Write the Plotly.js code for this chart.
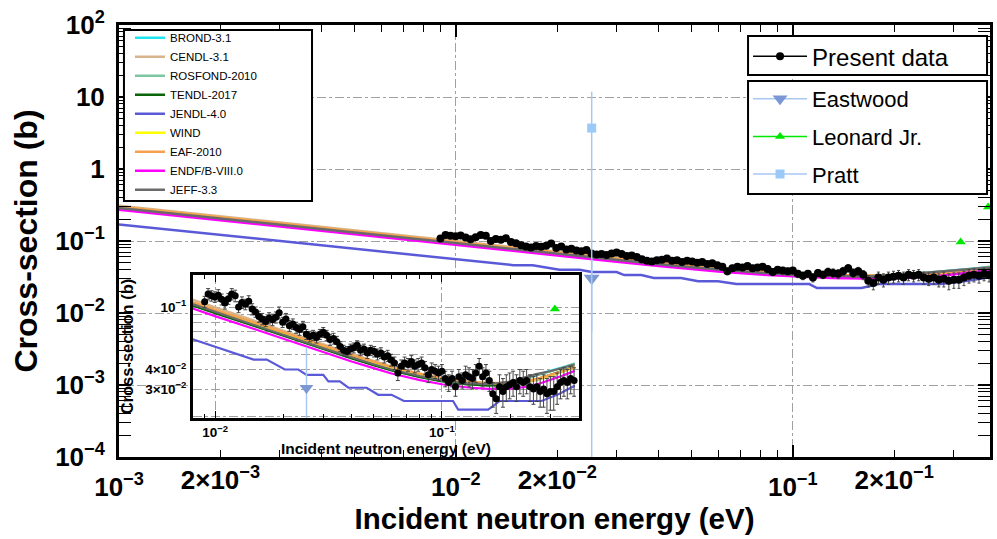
<!DOCTYPE html>
<html>
<head>
<meta charset="utf-8">
<script src="https://cdn.plot.ly/plotly-3.0.1.min.js"></script>
<style>
  html, body { margin: 0; padding: 0; background: #ffffff; }
  #chart { width: 997px; height: 539px; }
</style>
</head>
<body>
<div id="chart"></div>
<script>
// ---- Measured capture cross section (this work) ----
const presentE = [
  0.00900, 0.00932, 0.00964, 0.00998, 0.01033, 0.01069, 0.01106, 0.01145, 0.01185, 0.01227,
  0.01270, 0.01314, 0.01360, 0.01408, 0.01457, 0.01508, 0.01561, 0.01615, 0.01672, 0.01730,
  0.01791, 0.01854, 0.01918, 0.01986, 0.02055, 0.02127, 0.02202, 0.02279, 0.02358, 0.02441,
  0.02526, 0.02615, 0.02706, 0.02801, 0.02899, 0.03000, 0.03105, 0.03214, 0.03327, 0.03443,
  0.03564, 0.03688, 0.03817, 0.03951, 0.04089, 0.04232, 0.04380, 0.04534, 0.04692, 0.04857,
  0.05027, 0.05203, 0.05385, 0.05573, 0.05768, 0.05970, 0.06179, 0.06396, 0.06619, 0.06851,
  0.07091, 0.07339, 0.07596, 0.07862, 0.08137, 0.08422, 0.08717, 0.09022, 0.09338, 0.09664,
  0.10003, 0.10353, 0.10715, 0.11090, 0.11478, 0.11880, 0.12296, 0.12726, 0.13172, 0.13633,
  0.14110, 0.14604, 0.15115, 0.15644, 0.16191, 0.16758, 0.17345, 0.17952, 0.18580, 0.19230,
  0.19903, 0.20600, 0.21321, 0.22067, 0.22839, 0.23639, 0.24466, 0.25323, 0.26209, 0.27126,
  0.28076, 0.29058, 0.30075, 0.31128, 0.32218, 0.33345, 0.34512, 0.35720, 0.36970, 0.38264
];
const presentXS = [
  0.108, 0.121, 0.118, 0.116, 0.119, 0.112, 0.106, 0.113, 0.121, 0.118,
  0.100, 0.107, 0.104, 0.109, 0.097, 0.093, 0.087, 0.084, 0.081, 0.085,
  0.083, 0.086, 0.092, 0.080, 0.084, 0.076, 0.078, 0.074, 0.072, 0.075,
  0.067, 0.065, 0.066, 0.064, 0.067, 0.069, 0.066, 0.062, 0.063, 0.060,
  0.056, 0.053, 0.052, 0.054, 0.055, 0.057, 0.053, 0.054, 0.051, 0.053,
  0.052, 0.050, 0.051, 0.048, 0.049, 0.046, 0.044, 0.038, 0.042, 0.044,
  0.043, 0.045, 0.042, 0.043, 0.044, 0.041, 0.037, 0.040, 0.039, 0.038,
  0.039, 0.035, 0.033, 0.035, 0.031, 0.036, 0.034, 0.037, 0.036, 0.035,
  0.038, 0.042, 0.036, 0.038, 0.034, 0.028, 0.026, 0.031, 0.029, 0.031,
  0.032, 0.033, 0.031, 0.034, 0.033, 0.034, 0.031, 0.030, 0.031, 0.029,
  0.030, 0.028, 0.029, 0.029, 0.031, 0.033, 0.034, 0.033, 0.035, 0.034
];
const presentErr = [
  0.009, 0.010, 0.009, 0.009, 0.010, 0.009, 0.009, 0.009, 0.010, 0.010,
  0.008, 0.009, 0.008, 0.009, 0.008, 0.007, 0.007, 0.007, 0.006, 0.007,
  0.007, 0.007, 0.008, 0.006, 0.007, 0.006, 0.006, 0.006, 0.006, 0.006,
  0.005, 0.005, 0.005, 0.005, 0.005, 0.005, 0.005, 0.005, 0.005, 0.005,
  0.004, 0.004, 0.004, 0.004, 0.004, 0.004, 0.004, 0.004, 0.004, 0.004,
  0.004, 0.004, 0.004, 0.004, 0.004, 0.004, 0.004, 0.004, 0.004, 0.004,
  0.004, 0.004, 0.004, 0.004, 0.004, 0.004, 0.004, 0.004, 0.004, 0.004,
  0.004, 0.004, 0.004, 0.004, 0.004, 0.004, 0.004, 0.005, 0.005, 0.005,
  0.005, 0.005, 0.005, 0.005, 0.005, 0.005, 0.005, 0.006, 0.006, 0.006,
  0.006, 0.006, 0.006, 0.006, 0.006, 0.006, 0.006, 0.006, 0.006, 0.006,
  0.007, 0.007, 0.007, 0.007, 0.007, 0.007, 0.007, 0.007, 0.007, 0.007
];

// ---- Evaluated libraries on a common energy grid ----
const libE    = [0.001, 0.002, 0.005, 0.01, 0.015, 0.02, 0.03, 0.04, 0.05, 0.06, 0.08, 0.1, 0.13, 0.16, 0.2, 0.23, 0.26, 0.3, 0.34, 0.385];
const brond31   = [0.287, 0.204, 0.1292, 0.0923, 0.0762, 0.0662, 0.0545, 0.0475, 0.0430, 0.0398, 0.0361, 0.0340, 0.0325, 0.0320, 0.0330, 0.0348, 0.0368, 0.0392, 0.0412, 0.0435];
const cendl31   = [0.310, 0.220, 0.1395, 0.0995, 0.0818, 0.0708, 0.0580, 0.0503, 0.0454, 0.0418, 0.0377, 0.0352, 0.0334, 0.0326, 0.0325, 0.0331, 0.0341, 0.0362, 0.0386, 0.0412];
const rosfond10 = [0.286, 0.203, 0.1286, 0.0919, 0.0758, 0.0658, 0.0542, 0.0473, 0.0428, 0.0396, 0.0359, 0.0338, 0.0323, 0.0318, 0.0328, 0.0345, 0.0365, 0.0388, 0.0410, 0.0438];
const tendl17   = [0.284, 0.2015, 0.1280, 0.0914, 0.0754, 0.0655, 0.0539, 0.0470, 0.0426, 0.0394, 0.0357, 0.0336, 0.0321, 0.0315, 0.0320, 0.0330, 0.0345, 0.0368, 0.0392, 0.0418];
const wind      = [0.296, 0.210, 0.1335, 0.0954, 0.0787, 0.0683, 0.0562, 0.0490, 0.0445, 0.0411, 0.0373, 0.0350, 0.0333, 0.0326, 0.0326, 0.0333, 0.0344, 0.0365, 0.0388, 0.0412];
const eaf10     = [0.299, 0.212, 0.1348, 0.0963, 0.0794, 0.0690, 0.0568, 0.0495, 0.0449, 0.0415, 0.0376, 0.0353, 0.0336, 0.0329, 0.0329, 0.0336, 0.0347, 0.0368, 0.0390, 0.0415];
const endfb80   = [0.272, 0.193, 0.1225, 0.0875, 0.0722, 0.0627, 0.0516, 0.0450, 0.0408, 0.0377, 0.0342, 0.0322, 0.0307, 0.0301, 0.0302, 0.0309, 0.0320, 0.0342, 0.0365, 0.0392];
const jeff33    = [0.288, 0.205, 0.1300, 0.0928, 0.0765, 0.0665, 0.0547, 0.0477, 0.0432, 0.0400, 0.0363, 0.0341, 0.0327, 0.0322, 0.0335, 0.0355, 0.0374, 0.0390, 0.0408, 0.0430];

// JENDL-4.0 is given as a group-wise (stepped) curve
const jendlE  = [0.001, 0.0148, 0.0169, 0.0203, 0.0233, 0.0253, 0.0300, 0.0316, 0.0355, 0.0387, 0.0466, 0.0524, 0.0600, 0.0680, 0.1120, 0.1180, 0.1600, 0.1800, 0.2750, 0.3300, 0.385];
const jendl40 = [0.170, 0.0462, 0.0462, 0.0400, 0.0400, 0.0370, 0.0370, 0.0336, 0.0336, 0.0306, 0.0306, 0.0276, 0.0276, 0.0252, 0.0252, 0.0222, 0.0222, 0.0252, 0.0252, 0.0280, 0.0315];

// ---- Earlier measurements ----
const eastwoodE = [0.0253], eastwoodXS = [0.0305], eastwoodErr = [0.025];
const leonardE  = [0.315, 0.380], leonardXS = [0.097, 0.296];
const prattE    = [0.0253], prattXS = [3.7], prattErr = [8.1];

// ---- Tick labels ----
const xTickVals  = [0.001, 0.01, 0.1];
const xTickText  = ['10<sup>\u22123</sup>', '10<sup>\u22122</sup>', '10<sup>\u22121</sup>'];
const x2TickVals = [0.002, 0.02, 0.2];
const x2TickText = ['2\u00d710<sup>\u22123</sup>', '2\u00d710<sup>\u22122</sup>', '2\u00d710<sup>\u22121</sup>'];
const yTickVals  = [1e-4, 1e-3, 1e-2, 1e-1, 1, 10, 100];
const yTickText  = ['10<sup>\u22124</sup>', '10<sup>\u22123</sup>', '10<sup>\u22122</sup>', '10<sup>\u22121</sup>', '1', '10', '10<sup>2</sup>'];
const insetXTickVals = [0.01, 0.1];
const insetXTickText = ['10<sup>\u22122</sup>', '10<sup>\u22121</sup>'];
const insetYTickVals = [0.03, 0.04, 0.1];
const insetYTickText = ['3\u00d710<sup>\u22122</sup>', '4\u00d710<sup>\u22122</sup>', '10<sup>\u22121</sup>'];
const insetYGridVals = [0.02, 0.05, 0.06, 0.07, 0.08, 0.09];

const libraries = [
  { name: 'BROND-3.1',     color: '#1ee6ee', x: libE,   y: brond31 },
  { name: 'CENDL-3.1',     color: '#d8b48c', x: libE,   y: cendl31 },
  { name: 'ROSFOND-2010',  color: '#7cc6a0', x: libE,   y: rosfond10 },
  { name: 'TENDL-2017',    color: '#0a640a', x: libE,   y: tendl17 },
  { name: 'JENDL-4.0',     color: '#5a5ad8', x: jendlE, y: jendl40 },
  { name: 'WIND',          color: '#ffff00', x: libE,   y: wind },
  { name: 'EAF-2010',      color: '#f6a04e', x: libE,   y: eaf10 },
  { name: 'ENDF/B-VIII.0', color: '#ff00ff', x: libE,   y: endfb80 },
  { name: 'JEFF-3.3',      color: '#6a6a6a', x: libE,   y: jeff33 }
];

const FONT = 'Liberation Sans, Arial, Helvetica, sans-serif';
const traces = [];

function addSet(inset) {
  const xa = inset ? 'x2' : 'x';
  const ya = inset ? 'y2' : 'y';
  libraries.forEach(function (lib) {
    traces.push({
      type: 'scatter', mode: 'lines', name: lib.name,
      x: lib.x, y: lib.y, xaxis: xa, yaxis: ya,
      line: { color: lib.color, width: inset ? 2.2 : 2.5 },
      legend: 'legend', showlegend: !inset, hoverinfo: 'skip'
    });
  });
  traces.push({
    type: 'scatter', mode: 'markers', name: 'Present data',
    x: presentE, y: presentXS, xaxis: xa, yaxis: ya,
    marker: { color: '#000000', size: inset ? 7 : 8, symbol: 'circle' },
    error_y: { type: 'data', array: presentErr, visible: true, color: '#444444', thickness: 1, width: inset ? 2 : 1.5 },
    showlegend: false, hoverinfo: 'skip'
  });
  traces.push({
    type: 'scatter', mode: 'markers', name: 'Eastwood',
    x: eastwoodE, y: eastwoodXS, xaxis: xa, yaxis: ya,
    marker: { color: '#7b98d4', size: inset ? 12 : 14, symbol: 'triangle-down' },
    error_y: { type: 'data', array: eastwoodErr, visible: true, color: '#a8c8f2', thickness: 1.5, width: 0 },
    showlegend: false, hoverinfo: 'skip'
  });
  traces.push({
    type: 'scatter', mode: 'markers', name: 'Leonard Jr.',
    x: leonardE, y: leonardXS, xaxis: xa, yaxis: ya,
    marker: { color: '#00e800', size: 9, symbol: 'triangle-up' },
    showlegend: false, hoverinfo: 'skip'
  });
  if (!inset) {
    traces.push({
      type: 'scatter', mode: 'markers', name: 'Pratt',
      x: prattE, y: prattXS, xaxis: xa, yaxis: ya,
      marker: { color: '#9ccaf8', size: 9, symbol: 'square' },
      error_y: { type: 'data', array: prattErr, visible: true, color: '#a8c8f2', thickness: 1.5, width: 0 },
      showlegend: false, hoverinfo: 'skip'
    });
  }
}
addSet(false);
addSet(true);

// empty trace that carries the secondary (2x10^n) label axis
traces.push({ type: 'scatter', mode: 'markers', x: [null], y: [null], xaxis: 'x3', yaxis: 'y', showlegend: false, hoverinfo: 'skip' });

// legend-only entries (line + marker symbol as in the key)
traces.push({ type: 'scatter', mode: 'lines+markers', name: 'Present data', x: [null], y: [null],
  line: { color: '#000000', width: 1.5 }, marker: { color: '#000000', size: 8 }, legend: 'legend2', hoverinfo: 'skip' });
traces.push({ type: 'scatter', mode: 'lines+markers', name: 'Eastwood', x: [null], y: [null], legendgroup: 'g1',
  line: { color: '#a8c8f2', width: 1.5 }, marker: { color: '#7b98d4', size: 13, symbol: 'triangle-down' }, legend: 'legend3', hoverinfo: 'skip' });
traces.push({ type: 'scatter', mode: 'lines+markers', name: 'Leonard Jr.', x: [null], y: [null], legendgroup: 'g2',
  line: { color: '#00e800', width: 1.5 }, marker: { color: '#00e800', size: 9, symbol: 'triangle-up' }, legend: 'legend3', hoverinfo: 'skip' });
traces.push({ type: 'scatter', mode: 'lines+markers', name: 'Pratt', x: [null], y: [null], legendgroup: 'g3',
  line: { color: '#a8c8f2', width: 1.5 }, marker: { color: '#9ccaf8', size: 9, symbol: 'square' }, legend: 'legend3', hoverinfo: 'skip' });

const xRange = [-3, Math.log10(0.385)];
const gridStyle = { showgrid: true, gridcolor: '#a0a0a0', gridwidth: 1, griddash: 'dashdot' };
const tickFont = { family: FONT, size: 26, color: '#000000', weight: 'bold' };
const insetTickFont = { family: FONT, size: 13.5, color: '#000000', weight: 'bold' };

// framed boxes behind the three keys (paper coordinates of the plot area)
function box(x0, x1, y0, y1) {
  return { type: 'rect', xref: 'paper', yref: 'paper', x0: x0, x1: x1, y0: y0, y1: y1,
           line: { color: '#000000', width: 2 }, fillcolor: '#ffffff', layer: 'above' };
}

const layout = {
  width: 997, height: 539,
  margin: { l: 119, r: 7, t: 25, b: 82, pad: 0, autoexpand: false },
  paper_bgcolor: '#ffffff', plot_bgcolor: '#ffffff',
  font: { family: FONT, color: '#000000' },
  showlegend: true,
  shapes: [
    box(0.0057, 0.2216, 0.5926, 0.9884),
    box(0.7222, 0.9966, 0.8843, 0.9745),
    box(0.7222, 0.9966, 0.6088, 0.8704)
  ],
  xaxis: Object.assign({
    type: 'log', range: xRange, domain: [0, 1], anchor: 'y',
    tickmode: 'array', tickvals: xTickVals, ticktext: xTickText, tickfont: tickFont, ticklabelstandoff: 5,
    ticks: 'inside', ticklen: 12, tickwidth: 1.5, tickcolor: '#000000',
    minor: { dtick: 'D1', ticks: 'inside', ticklen: 7, tickwidth: 1, tickcolor: '#000000', showgrid: false },
    showline: true, linewidth: 3, linecolor: '#000000', mirror: 'allticks', zeroline: false,
    title: { text: 'Incident neutron energy (eV)', font: { family: FONT, size: 29.5, weight: 'bold', color: '#000000' }, standoff: 8 }
  }, gridStyle),
  xaxis3: {
    type: 'log', range: xRange, overlaying: 'x', anchor: 'y', side: 'bottom',
    tickmode: 'array', tickvals: x2TickVals, ticktext: x2TickText, tickfont: tickFont, ticklabelstandoff: 5,
    ticks: '', showgrid: false, showline: false, zeroline: false
  },
  yaxis: Object.assign({
    type: 'log', range: [-4, 2], domain: [0, 1], anchor: 'x', automargin: true,
    tickmode: 'array', tickvals: yTickVals, ticktext: yTickText, tickfont: tickFont, ticklabelstandoff: 6,
    ticks: 'inside', ticklen: 12, tickwidth: 1.5, tickcolor: '#000000',
    minor: { dtick: 'D1', ticks: 'inside', ticklen: 7, tickwidth: 1, tickcolor: '#000000', showgrid: false },
    showline: true, linewidth: 3, linecolor: '#000000', mirror: 'allticks', zeroline: false,
    title: { text: 'Cross-section (b)', font: { family: FONT, size: 32, weight: 'bold', color: '#000000' }, standoff: 8 }
  }, gridStyle),
  xaxis2: Object.assign({
    type: 'log', range: [-2.097, -0.396], domain: [0.085, 0.528], anchor: 'y2',
    tickmode: 'array', tickvals: insetXTickVals, ticktext: insetXTickText, tickfont: insetTickFont,
    ticks: 'inside', ticklen: 7, tickwidth: 1, tickcolor: '#000000',
    minor: { dtick: 'D1', ticks: 'inside', ticklen: 4, tickwidth: 1, tickcolor: '#000000', showgrid: false },
    showline: true, linewidth: 3, linecolor: '#000000', mirror: 'allticks', zeroline: false,
    title: { text: 'Incident neutron energy (eV)', font: { family: FONT, size: 15.5, weight: 'bold', color: '#000000' }, standoff: 2 }
  }, gridStyle),
  yaxis2: Object.assign({
    type: 'log', range: [-1.707, -0.796], domain: [0.0903, 0.4213], anchor: 'x2', automargin: true,
    tickmode: 'array', tickvals: insetYTickVals, ticktext: insetYTickText, tickfont: insetTickFont, ticklabelstandoff: 1,
    ticks: '', showline: true, linewidth: 3, linecolor: '#000000', mirror: true, zeroline: false,
    minor: { tickmode: 'array', tickvals: insetYGridVals, ticks: '', showgrid: true, gridcolor: '#a0a0a0', gridwidth: 1, griddash: 'dashdot' },
    title: { text: 'Cross-section (b)', font: { family: FONT, size: 16.5, weight: 'bold', color: '#000000' }, standoff: 8 }
  }, gridStyle),
  legend: {
    x: 0.0126, y: 1.004, xanchor: 'left', yanchor: 'top',
    bgcolor: 'rgba(0,0,0,0)', borderwidth: 0,
    font: { family: FONT, size: 11.5, color: '#000000' }, itemwidth: 30, tracegroupgap: 0
  },
  legend2: {
    x: 0.7222, y: 0.979, xanchor: 'left', yanchor: 'top',
    bgcolor: 'rgba(0,0,0,0)', borderwidth: 0,
    font: { family: FONT, size: 24, color: '#000000' }, itemwidth: 54
  },
  legend3: {
    x: 0.7222, y: 0.8773, xanchor: 'left', yanchor: 'top',
    bgcolor: 'rgba(0,0,0,0)', borderwidth: 0,
    font: { family: FONT, size: 22, color: '#000000' }, itemwidth: 54,
    traceorder: 'grouped', tracegroupgap: 6
  }
};

Plotly.newPlot('chart', traces, layout, { staticPlot: true, displayModeBar: false });
</script>
</body>
</html>
